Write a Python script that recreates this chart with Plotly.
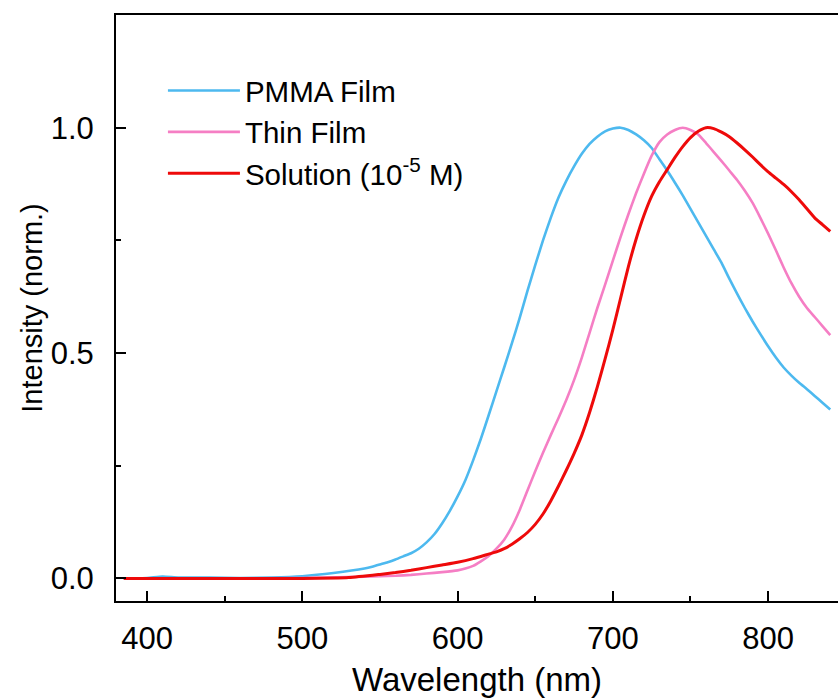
import plotly.graph_objects as go

# ---- data ----
wl_pmma = [385, 400, 410, 420, 440, 460, 480, 500, 520, 540, 545, 550, 555, 560, 565, 570, 575, 580, 585, 590,
           595, 600, 605, 610, 615, 620, 625, 630, 635, 640, 645, 650, 655, 660, 665, 670, 675, 680, 685, 690,
           695, 700, 705, 710, 715, 720, 725, 730, 735, 740, 745, 750, 755, 760, 765, 770, 775, 780, 785, 790,
           795, 800, 805, 810, 815, 820, 825, 830, 835, 840]
pmma = [0.0, 0.001, 0.004, 0.002, 0.002, 0.001, 0.002, 0.005, 0.012, 0.022, 0.026, 0.031, 0.036, 0.042, 0.049,
        0.056, 0.066, 0.08, 0.098, 0.122, 0.15, 0.182, 0.218, 0.262, 0.31, 0.362, 0.415, 0.468, 0.522, 0.578,
        0.638, 0.695, 0.75, 0.80, 0.845, 0.882, 0.914, 0.942, 0.964, 0.98, 0.992, 0.998, 1.0, 0.995, 0.985, 0.972,
        0.955, 0.93, 0.905, 0.878, 0.85, 0.82, 0.79, 0.76, 0.73, 0.70, 0.665, 0.632, 0.60, 0.57, 0.542, 0.515,
        0.49, 0.468, 0.45, 0.434, 0.42, 0.405, 0.39, 0.375]

wl_thin = [385, 450, 500, 530, 550, 560, 570, 580, 590, 600, 605, 610, 615, 620, 625, 630, 635, 640, 645, 650,
           655, 660, 665, 670, 675, 680, 685, 690, 695, 700, 705, 710, 715, 720, 725, 730, 735, 740, 745, 750,
           755, 760, 765, 770, 775, 780, 785, 790, 795, 800, 805, 810, 815, 820, 825, 830, 835, 840]
thin = [0.0, 0.0, 0.001, 0.003, 0.005, 0.006, 0.008, 0.011, 0.014, 0.018, 0.022, 0.028, 0.038, 0.05, 0.066,
        0.086, 0.115, 0.152, 0.195, 0.238, 0.279, 0.318, 0.356, 0.396, 0.44, 0.49, 0.545, 0.60, 0.652, 0.705,
        0.758, 0.808, 0.855, 0.898, 0.938, 0.968, 0.985, 0.995, 1.0, 0.995, 0.985, 0.966, 0.946, 0.926, 0.905,
        0.884, 0.86, 0.833, 0.80, 0.765, 0.728, 0.69, 0.655, 0.625, 0.60, 0.58, 0.56, 0.54]

wl_sol = [385, 450, 500, 530, 550, 560, 570, 580, 590, 600, 610, 620, 625, 630, 635, 640, 645, 650, 655, 660,
          665, 670, 675, 680, 685, 690, 695, 700, 705, 710, 715, 720, 725, 730, 735, 740, 745, 750, 755, 760,
          765, 770, 775, 780, 785, 790, 795, 800, 805, 810, 815, 820, 825, 830, 835, 840]
sol = [0.0, 0.0, 0.0, 0.002, 0.009, 0.013, 0.018, 0.024, 0.030, 0.036, 0.044, 0.054, 0.059, 0.066, 0.076, 0.088,
       0.102, 0.12, 0.143, 0.172, 0.205, 0.24, 0.277, 0.318, 0.368, 0.425, 0.487, 0.552, 0.622, 0.692, 0.753,
       0.805, 0.848, 0.88, 0.907, 0.934, 0.958, 0.978, 0.992, 1.0, 0.998, 0.99, 0.98, 0.966, 0.951, 0.935, 0.918,
       0.902, 0.888, 0.874, 0.858, 0.84, 0.82, 0.80, 0.785, 0.77]

names = ["PMMA Film", "Thin Film", "Solution (10<sup>-5</sup> M)"]
colors = ["#4DB9EF", "#F57EC4", "#EE0A0A"]
widths = [2.6, 2.6, 3.0]

x_ticks = [400, 500, 600, 700, 800]
y_ticks = [0.0, 0.5, 1.0]

FONT = "Arial, Liberation Sans, Helvetica, sans-serif"

fig = go.Figure()
for xs, ys, n, c, w in zip([wl_pmma, wl_thin, wl_sol], [pmma, thin, sol], names, colors, widths):
    fig.add_trace(go.Scatter(x=xs, y=ys, mode="lines", name=n,
                             line=dict(color=c, width=w, shape="spline", smoothing=0.5)))

fig.update_layout(
    width=838, height=698, autosize=False,
    margin=dict(l=116, r=0, t=15, b=97),
    paper_bgcolor="white", plot_bgcolor="white",
    font=dict(family=FONT, color="black", size=31),
    showlegend=True,
    legend=dict(x=0.065, y=0.915, xanchor="left", yanchor="top",
                bgcolor="rgba(0,0,0,0)", borderwidth=0,
                font=dict(size=29.5, family=FONT), tracegroupgap=0, itemwidth=72),
)
fig.update_xaxes(
    range=[380, 845], tickvals=x_ticks, ticktext=[str(v) for v in x_ticks],
    showline=True, linecolor="black", linewidth=2, mirror=True,
    ticks="inside", ticklen=10, tickwidth=2, tickcolor="black",
    minor=dict(ticks="inside", ticklen=5, tickwidth=2, tickcolor="black", dtick=50, tick0=350),
    showgrid=False, zeroline=False,
    tickfont=dict(size=31), ticklabelstandoff=9,
    title=dict(text="Wavelength (nm)", font=dict(size=33), standoff=13),
)
fig.update_yaxes(
    range=[-0.05, 1.25], tickvals=y_ticks, ticktext=["0.0", "0.5", "1.0"],
    showline=True, linecolor="black", linewidth=2, mirror=False,
    ticks="inside", ticklen=10, tickwidth=2, tickcolor="black",
    minor=dict(ticks="inside", ticklen=5, tickwidth=2, tickcolor="black", dtick=0.25, tick0=0),
    showgrid=False, zeroline=False,
    tickfont=dict(size=31), ticklabelstandoff=14,
    title=dict(text="Intensity (norm.)", font=dict(size=29), standoff=0),
)

fig.write_html("out.html")
